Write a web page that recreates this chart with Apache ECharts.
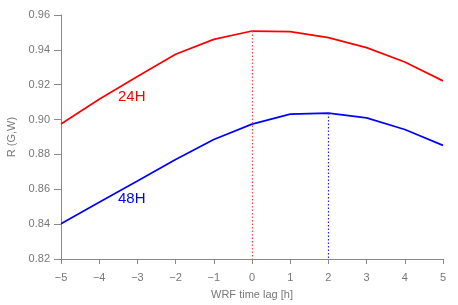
<!DOCTYPE html>
<html><head><meta charset="utf-8">
<script src="https://cdn.jsdelivr.net/npm/echarts@6/dist/echarts.min.js"></script>
<style>html,body{margin:0;padding:0;background:#fff}#c{width:458px;height:305px}</style>
</head><body><div id="c"></div>
<script>
const lags = [-5,-4,-3,-2,-1,0,1,2,3,4,5];
const r24 = [0.8975,0.9117,0.9247,0.9375,0.9460,0.9508,0.9505,0.9470,0.9413,0.9330,0.9222];
const r48 = [0.8402,0.8525,0.8647,0.8771,0.8886,0.8974,0.9031,0.9037,0.9010,0.8943,0.8852];
const peak24 = 0, peak48 = 2;
const yMin = 0.82, yMax = 0.96, yStep = 0.02;

const chart = echarts.init(document.getElementById('c'), null, {renderer:'canvas'});
const gray = '#888';
const font = 'Liberation Sans, Arial, sans-serif';
function pairs(arr){ return lags.map((x,i)=>[x,arr[i]]); }
chart.setOption({
  animation:false,
  backgroundColor:'#fff',
  grid:{left:61,right:15,top:15,bottom:46,containLabel:false,outerBoundsMode:'none'},
  xAxis:{type:'value',min:-5,max:5,interval:1,
    name:'WRF time lag [h]',nameLocation:'middle',nameGap:30,
    nameTextStyle:{color:'#777',fontSize:11,fontFamily:font},
    axisLine:{onZero:false,lineStyle:{color:gray,width:1}},
    axisTick:{length:5,lineStyle:{color:gray}},
    splitLine:{show:false},
    axisLabel:{color:'#777',fontSize:11,fontFamily:font,margin:13,
      formatter:v=>String(v).replace('-','\u2212')}},
  yAxis:{type:'value',min:yMin,max:yMax,interval:yStep,
    name:'R (G,W)',nameLocation:'middle',nameGap:43,
    nameTextStyle:{color:'#777',fontSize:11,fontFamily:font},
    axisLine:{show:true,onZero:false,lineStyle:{color:gray,width:1}},
    axisTick:{show:true,length:7,lineStyle:{color:gray}},
    splitLine:{show:false},
    axisLabel:{color:'#777',fontSize:11,fontFamily:font,margin:11,
      formatter:v=>v.toFixed(2)}},
  series:[
    {type:'line',data:pairs(r24),symbol:'none',lineStyle:{color:'#ff0000',width:1.7},
     markLine:{silent:true,symbol:'none',label:{show:false},
       lineStyle:{color:'#ff4444',type:[1.5,2],width:1.2},
       data:[[{coord:[peak24,r24[lags.indexOf(peak24)]]},{coord:[peak24,yMin]}]]}},
    {type:'line',data:pairs(r48),symbol:'none',lineStyle:{color:'#0000ff',width:1.7},
     markLine:{silent:true,symbol:'none',label:{show:false},
       lineStyle:{color:'#2222ff',type:[1.5,2],width:1.2},
       data:[[{coord:[peak48,r48[lags.indexOf(peak48)]]},{coord:[peak48,yMin]}]]}}
  ],
  graphic:[
    {type:'text',left:118,top:89,style:{text:'24H',fill:'#ff0000',font:'15px '+font}},
    {type:'text',left:118,top:191,style:{text:'48H',fill:'#0000ff',font:'15px '+font}}
  ]
});
</script></body></html>
